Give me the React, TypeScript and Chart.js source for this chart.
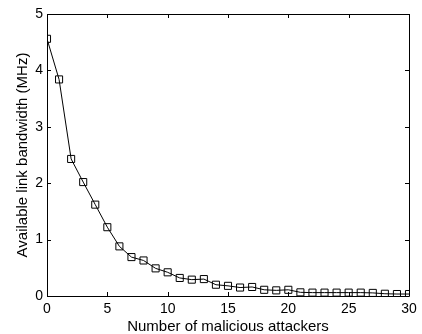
import React, { useEffect, useRef } from "react";
import { Chart, registerables } from "chart.js";

Chart.register(...registerables);

const attackers: number[] = Array.from({ length: 31 }, (_, i) => i);
const bandwidth: number[] = [
  4.56, 3.84, 2.43, 2.02, 1.62, 1.22, 0.88, 0.69, 0.63, 0.49, 0.42, 0.32, 0.29,
  0.3, 0.2, 0.18, 0.15, 0.16, 0.11, 0.1, 0.11, 0.065, 0.06, 0.06, 0.06, 0.06,
  0.06, 0.055, 0.04, 0.035, 0.035,
];
const xTitle = "Number of malicious attackers";
const yTitle = "Available link bandwidth (MHz)";

const FONT = "'Liberation Sans', Arial, sans-serif";

const boxPlugin = {
  id: "boxTicks",
  afterDraw(chart: any) {
    const { ctx, chartArea: a, scales } = chart;
    const xs = scales.x;
    const ys = scales.y;
    const L = 4;
    ctx.save();
    ctx.strokeStyle = "#000";
    ctx.lineWidth = 1;
    ctx.beginPath();
    ctx.rect(Math.round(a.left) + 0.5, Math.round(a.top) + 0.5, Math.round(a.right - a.left), Math.round(a.bottom - a.top));
    ctx.stroke();
    ctx.beginPath();
    xs.ticks.forEach((t: any) => {
      const px = Math.round(xs.getPixelForValue(t.value)) + 0.5;
      ctx.moveTo(px, a.bottom);
      ctx.lineTo(px, a.bottom - L);
      ctx.moveTo(px, a.top);
      ctx.lineTo(px, a.top + L);
    });
    ys.ticks.forEach((t: any) => {
      const py = Math.round(ys.getPixelForValue(t.value)) + 0.5;
      ctx.moveTo(a.left, py);
      ctx.lineTo(a.left + L, py);
      ctx.moveTo(a.right, py);
      ctx.lineTo(a.right - L, py);
    });
    ctx.stroke();
    ctx.restore();
  },
};

export default function App() {
  const ref = useRef<HTMLCanvasElement | null>(null);
  useEffect(() => {
    document.body.style.margin = "0";
    const canvas = ref.current!;
    const chart = new Chart(canvas, {
      type: "line",
      data: {
        labels: attackers,
        datasets: [
          {
            data: attackers.map((x, i) => ({ x, y: bandwidth[i] })),
            borderColor: "#000",
            borderWidth: 1,
            backgroundColor: "rgba(0,0,0,0)",
            pointStyle: "rect",
            pointRadius: 5,
            pointBorderWidth: 1,
            pointBorderColor: "#000",
            pointBackgroundColor: "rgba(0,0,0,0)",
            tension: 0,
          },
        ],
      },
      options: {
        animation: false,
        responsive: false,
        maintainAspectRatio: false,
        layout: { padding: { top: 14, right: 13, left: 0, bottom: 0 } },
        plugins: { legend: { display: false }, tooltip: { enabled: false } },
        scales: {
          x: {
            type: "linear",
            min: 0,
            max: 30,
            grid: { display: false, drawTicks: false },
            border: { display: false },
            ticks: { stepSize: 5, padding: 5, color: "#000", font: { family: FONT, size: 14 }, maxRotation: 0 },
            title: { display: true, text: xTitle, color: "#000", font: { family: FONT, size: 15 }, padding: { top: 0, bottom: -2 } },
            afterFit: (s: any) => {
              s.height = 38;
            },
          },
          y: {
            min: 0,
            max: 5,
            grid: { display: false, drawTicks: false },
            border: { display: false },
            ticks: { stepSize: 1, padding: 4, color: "#000", font: { family: FONT, size: 14 } },
            title: { display: true, text: yTitle, color: "#000", font: { family: FONT, size: 15 }, padding: { top: 14, bottom: 0 } },
            afterFit: (s: any) => {
              s.width = 47;
            },
          },
        },
      },
      plugins: [boxPlugin],
    });
    return () => chart.destroy();
  }, []);
  return (
    <div style={{ width: 422, height: 334, background: "#fff" }}>
      <canvas ref={ref} width={422} height={334} style={{ display: "block" }} />
    </div>
  );
}
